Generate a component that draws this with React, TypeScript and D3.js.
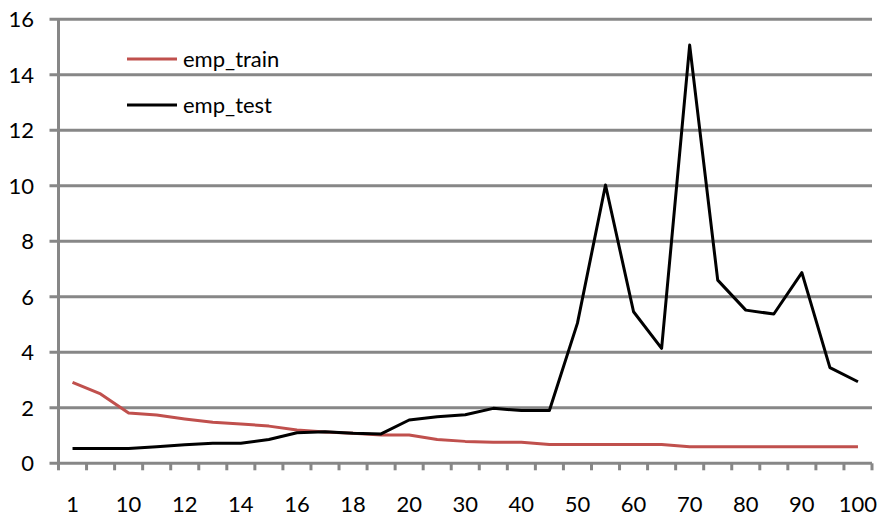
import React from "react";
import * as d3 from "d3";

// x categories (iterations / sample sizes)
const categories = [1, 5, 10, 11, 12, 13, 14, 15, 16, 17, 18, 19, 20, 25, 30, 35, 40, 45, 50, 55, 60, 65, 70, 75, 80, 85, 90, 95, 100];
// every other category gets a label
const labelledCategories = [1, 10, 12, 14, 16, 18, 20, 30, 40, 50, 60, 70, 80, 90, 100];

const empTrain = [2.92, 2.5, 1.81, 1.74, 1.6, 1.48, 1.42, 1.34, 1.2, 1.13, 1.08, 1.02, 1.02, 0.86, 0.79, 0.76, 0.76, 0.68, 0.68, 0.68, 0.68, 0.68, 0.6, 0.6, 0.6, 0.6, 0.6, 0.6, 0.6];
const empTest = [0.53, 0.53, 0.53, 0.6, 0.67, 0.72, 0.72, 0.86, 1.1, 1.14, 1.08, 1.06, 1.56, 1.68, 1.75, 1.98, 1.9, 1.9, 5.05, 10.03, 5.46, 4.14, 15.07, 6.6, 5.52, 5.38, 6.87, 3.45, 2.94];

const yTicks = [0, 2, 4, 6, 8, 10, 12, 14, 16];

const series = [
  { name: "emp_train", values: empTrain, color: "#C0504D" },
  { name: "emp_test", values: empTest, color: "#000000" },
];

const W = 884;
const H = 516;
const left = 58.5;
const right = 872;
const top = 19.3;
const bottom = 463.3;
const grid = "#878787";
const font = "Lato, 'Open Sans', sans-serif";
const fontSize = 22;

export default function App() {
  const x = d3.scaleBand<number>().domain(categories).range([left, right]).padding(0);
  const y = d3.scaleLinear().domain([0, 16]).range([bottom, top]);
  const bw = x.bandwidth();
  const cx = (c: number) => (x(c) as number) + bw / 2;

  const line = d3
    .line<number>()
    .x((_, i) => cx(categories[i]))
    .y((v) => y(v));

  return (
    <svg width={W} height={H} style={{ position: "absolute", left: 0, top: 0, background: "#fff" }}>
      {/* horizontal gridlines with outward ticks */}
      {yTicks.map((t) => (
        <g key={t}>
          <line x1={left - 9} x2={right} y1={y(t)} y2={y(t)} stroke={grid} strokeWidth={3} />
          <text
            x={34}
            y={y(t)}
            dy="0.35em"
            textAnchor="end"
            fontFamily={font}
            fontSize={fontSize}
            fill="#000"
          >
            {t}
          </text>
        </g>
      ))}
      {/* vertical axis */}
      <line x1={left} x2={left} y1={top} y2={bottom} stroke={grid} strokeWidth={3} />
      {/* category boundary ticks */}
      {categories.map((c) => (
        <line key={c} x1={x(c) as number} x2={x(c) as number} y1={bottom} y2={bottom + 7} stroke={grid} strokeWidth={3} />
      ))}
      <line x1={right} x2={right} y1={bottom} y2={bottom + 7} stroke={grid} strokeWidth={3} />
      {/* category labels */}
      {labelledCategories.map((c) => (
        <text
          key={c}
          x={cx(c)}
          y={512}
          textAnchor="middle"
          fontFamily={font}
          fontSize={fontSize}
          fill="#000"
        >
          {c}
        </text>
      ))}
      {/* series lines */}
      {series.map((s) => (
        <path
          key={s.name}
          d={line(s.values) ?? ""}
          fill="none"
          stroke={s.color}
          strokeWidth={3}
          strokeLinejoin="round"
        />
      ))}
      {/* legend */}
      {series.map((s, i) => (
        <g key={s.name} transform={`translate(127, ${59 + i * 46})`}>
          <line x1={0} x2={50} y1={0} y2={0} stroke={s.color} strokeWidth={3} />
          <text x={56} y={0} dy="0.35em" fontFamily={font} fontSize={fontSize} fill="#000">
            {s.name}
          </text>
        </g>
      ))}
    </svg>
  );
}
